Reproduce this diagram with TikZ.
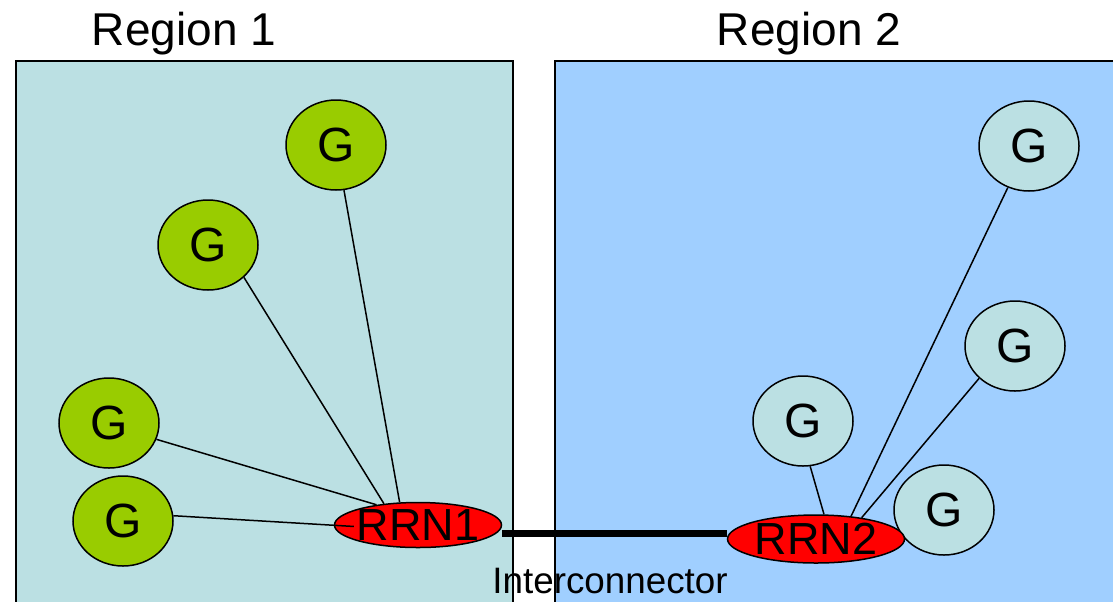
\documentclass[tikz,border=0pt]{standalone}
\usepackage{fontspec}
\setmainfont{Liberation Sans}
\usetikzlibrary{shapes.geometric}
\definecolor{regionone}{RGB}{187,224,227}
\definecolor{regiontwo}{RGB}{160,207,255}
\definecolor{gengreen}{RGB}{153,204,0}

\begin{document}
\begin{tikzpicture}[x=0.5pt, y=-0.5pt,
    region/.style={draw, line width=0.75pt},
    gen/.style={ellipse, draw, line width=0.75pt, minimum width=50pt, minimum height=45pt,
        inner sep=0pt, font=\fontsize{24}{28}\selectfont},
    rrn/.style={ellipse, draw, line width=0.75pt, fill=red, inner sep=0pt},
    rrntext/.style={font=\fontsize{22.5}{26}\selectfont, inner sep=0pt},
    link/.style={line width=0.75pt},
    interlink/.style={line width=3.5pt}]
    \useasboundingbox (0,0) rectangle (1113,601);

    % 区域
    \draw[region, fill=regionone] (16,61) rectangle (513,630);
    \draw[region, fill=regiontwo] (555,61) rectangle (1130,630);
    \node[anchor=base, font=\fontsize{23}{28}\selectfont] (reg1) at (184,45) {Region 1};
    \node[anchor=base, font=\fontsize{23}{28}\selectfont] (reg2) at (809,45) {Region 2};

    % 发电机 G
    \node[gen, fill=gengreen] (g1) at (336,145) {G};
    \node[gen, fill=gengreen] (g2) at (208,245) {G};
    \node[gen, fill=gengreen] (g3) at (109,423) {G};
    \node[gen, fill=gengreen] (g4) at (123,521) {G};
    \node[gen, fill=regionone] (g5) at (1029,146) {G};
    \node[gen, fill=regionone] (g6) at (1015,346) {G};
    \node[gen, fill=regionone] (g7) at (803,421) {G};
    \node[gen, fill=regionone] (g8) at (944,510) {G};

    % RRN
    \node[rrn, minimum width=83.5pt, minimum height=22.5pt,
        label={[rrntext]center:RRN1}] (rrn1) at (418,525) {};
    \node[rrn, minimum width=88.5pt, minimum height=24pt,
        label={[rrntext]center:RRN2}] (rrn2) at (816,539) {};

    % 连线
    \draw[link] (g1.-80) -- (rrn1.129);
    \draw[link] (g2.-42) -- (rrn1.148);
    \draw[link] (g3.-19) -- (rrn1.154);
    \draw[link] (g4.6) -- ([xshift=10pt]rrn1.181);
    \draw[link] (g7.-81) -- (rrn2.72);
    \draw[link] (g5.-117) -- (rrn2.33);
    \draw[link] (g6.-138) -- (rrn2.25);

    % 联络线
    \coordinate (icl) at ([yshift=-4pt]rrn1.east);
    \draw[interlink] (icl) -- (icl -| rrn2.west);
    \node[anchor=base, font=\fontsize{18.4}{22}\selectfont] (ic) at (610,593) {Interconnector};
\end{tikzpicture}
\end{document}
